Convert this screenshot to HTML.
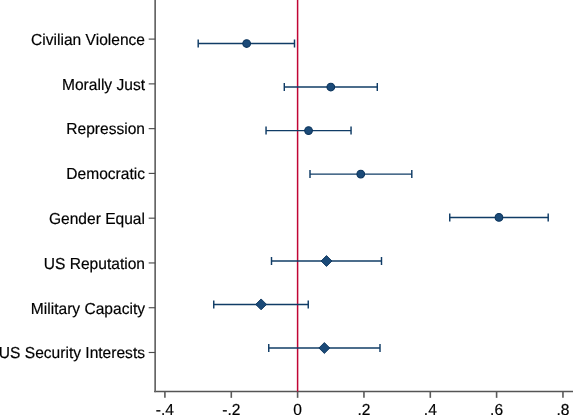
<!DOCTYPE html>
<html><head><meta charset="utf-8"><title>chart</title>
<style>
html,body{margin:0;padding:0;background:#fff;}
body{width:573px;height:415px;overflow:hidden;}
svg{display:block;will-change:transform;}
text{font-family:"Liberation Sans",sans-serif;fill:#000;stroke:#000;stroke-width:0.18px;}
</style></head><body>
<svg width="573" height="415" viewBox="0 0 573 415">
<rect width="573" height="415" fill="#fff"/>
<g stroke="#525252" stroke-width="1.6" fill="none" stroke-linejoin="round">
<path d="M154.6 391.5H575" stroke-width="1.35" stroke="#555555" stroke-linecap="round"/>
<path d="M155.14999999999998 -2V391.5" stroke-width="1.7" stroke="#666666" stroke-linecap="round"/>
<line x1="148.7" y1="39.1" x2="155.2" y2="39.1" stroke-width="1.15" stroke="#4c4c4c"/>
<line x1="148.7" y1="83.87" x2="155.2" y2="83.87" stroke-width="1.15" stroke="#4c4c4c"/>
<line x1="148.7" y1="128.64" x2="155.2" y2="128.64" stroke-width="1.15" stroke="#4c4c4c"/>
<line x1="148.7" y1="173.41" x2="155.2" y2="173.41" stroke-width="1.15" stroke="#4c4c4c"/>
<line x1="148.7" y1="218.18" x2="155.2" y2="218.18" stroke-width="1.15" stroke="#4c4c4c"/>
<line x1="148.7" y1="262.95" x2="155.2" y2="262.95" stroke-width="1.15" stroke="#4c4c4c"/>
<line x1="148.7" y1="307.72" x2="155.2" y2="307.72" stroke-width="1.15" stroke="#4c4c4c"/>
<line x1="148.7" y1="352.49" x2="155.2" y2="352.49" stroke-width="1.15" stroke="#4c4c4c"/>
<line x1="164.9" y1="391.5" x2="164.9" y2="397.85" stroke="#5a5a5a"/>
<line x1="231.3" y1="391.5" x2="231.3" y2="397.85" stroke="#5a5a5a"/>
<line x1="297.6" y1="391.5" x2="297.6" y2="397.85" stroke="#5a5a5a"/>
<line x1="363.95" y1="391.5" x2="363.95" y2="397.85" stroke="#5a5a5a"/>
<line x1="430.3" y1="391.5" x2="430.3" y2="397.85" stroke="#5a5a5a"/>
<line x1="496.6" y1="391.5" x2="496.6" y2="397.85" stroke="#5a5a5a"/>
<line x1="562.95" y1="391.5" x2="562.95" y2="397.85" stroke="#5a5a5a"/>
</g>
<line x1="297.6" y1="0" x2="297.6" y2="391.5" stroke="#c10534" stroke-width="1.5"/>
<g stroke="#103c66" stroke-width="1.45" fill="#103c66">
<line x1="198.2" y1="43.5" x2="294.5" y2="43.5"/>
<line x1="198.2" y1="39.5" x2="198.2" y2="47.5"/>
<line x1="294.5" y1="39.5" x2="294.5" y2="47.5"/>
<circle cx="246.65" cy="43.5" r="3.85" fill="#1b4a78" stroke="#0b345c" stroke-width="1.05"/>
<line x1="284.3" y1="87.0" x2="377.3" y2="87.0"/>
<line x1="284.3" y1="83.0" x2="284.3" y2="91.0"/>
<line x1="377.3" y1="83.0" x2="377.3" y2="91.0"/>
<circle cx="330.8" cy="87.0" r="3.85" fill="#1b4a78" stroke="#0b345c" stroke-width="1.05"/>
<line x1="266.05" y1="130.6" x2="351.05" y2="130.6"/>
<line x1="266.05" y1="126.6" x2="266.05" y2="134.6"/>
<line x1="351.05" y1="126.6" x2="351.05" y2="134.6"/>
<circle cx="308.55" cy="130.6" r="3.85" fill="#1b4a78" stroke="#0b345c" stroke-width="1.05"/>
<line x1="310" y1="174.1" x2="411.8" y2="174.1"/>
<line x1="310" y1="170.1" x2="310" y2="178.1"/>
<line x1="411.8" y1="170.1" x2="411.8" y2="178.1"/>
<circle cx="360.75" cy="174.1" r="3.85" fill="#1b4a78" stroke="#0b345c" stroke-width="1.05"/>
<line x1="449.75" y1="217.45" x2="548.2" y2="217.45"/>
<line x1="449.75" y1="213.45" x2="449.75" y2="221.45"/>
<line x1="548.2" y1="213.45" x2="548.2" y2="221.45"/>
<circle cx="498.95" cy="217.45" r="3.85" fill="#1b4a78" stroke="#0b345c" stroke-width="1.05"/>
<line x1="271.5" y1="261.0" x2="381.5" y2="261.0"/>
<line x1="271.5" y1="257.0" x2="271.5" y2="265.0"/>
<line x1="381.5" y1="257.0" x2="381.5" y2="265.0"/>
<path d="M321.05 261.0L326.5 255.55L331.95 261.0L326.5 266.45Z" fill="#1b4a78" stroke="#0b345c" stroke-width="0.9" stroke-linejoin="miter"/>
<line x1="213.75" y1="304.4" x2="308.25" y2="304.4"/>
<line x1="213.75" y1="300.4" x2="213.75" y2="308.4"/>
<line x1="308.25" y1="300.4" x2="308.25" y2="308.4"/>
<path d="M255.65000000000003 304.4L261.1 298.95L266.55 304.4L261.1 309.84999999999997Z" fill="#1b4a78" stroke="#0b345c" stroke-width="0.9" stroke-linejoin="miter"/>
<line x1="268.75" y1="348.0" x2="380" y2="348.0"/>
<line x1="268.75" y1="344.0" x2="268.75" y2="352.0"/>
<line x1="380" y1="344.0" x2="380" y2="352.0"/>
<path d="M318.90000000000003 348.0L324.35 342.55L329.8 348.0L324.35 353.45Z" fill="#1b4a78" stroke="#0b345c" stroke-width="0.9" stroke-linejoin="miter"/>
</g>
<g font-size="15.55px" text-rendering="geometricPrecision">
<text transform="translate(145,44.95) scale(1.001,1.022)" text-anchor="end">Civilian Violence</text>
<text transform="translate(145,89.72) scale(1.001,1.022)" text-anchor="end">Morally Just</text>
<text transform="translate(145,134.48999999999998) scale(1.001,1.022)" text-anchor="end">Repression</text>
<text transform="translate(145,179.26) scale(1.001,1.022)" text-anchor="end">Democratic</text>
<text transform="translate(145,224.03) scale(1.001,1.022)" text-anchor="end">Gender Equal</text>
<text transform="translate(145,268.8) scale(1.001,1.022)" text-anchor="end">US Reputation</text>
<text transform="translate(145,313.57000000000005) scale(1.001,1.022)" text-anchor="end">Military Capacity</text>
<text transform="translate(145,358.34000000000003) scale(1.001,1.022)" text-anchor="end">US Security Interests</text>
<text transform="translate(164.9,414.6) scale(1.001,1.022)" text-anchor="middle">-.4</text>
<text transform="translate(231.3,414.6) scale(1.001,1.022)" text-anchor="middle">-.2</text>
<text transform="translate(297.6,414.6) scale(1.001,1.022)" text-anchor="middle">0</text>
<text transform="translate(363.95,414.6) scale(1.001,1.022)" text-anchor="middle">.2</text>
<text transform="translate(430.3,414.6) scale(1.001,1.022)" text-anchor="middle">.4</text>
<text transform="translate(496.6,414.6) scale(1.001,1.022)" text-anchor="middle">.6</text>
<text transform="translate(562.95,414.6) scale(1.001,1.022)" text-anchor="middle">.8</text>
</g>
</svg></body></html>
